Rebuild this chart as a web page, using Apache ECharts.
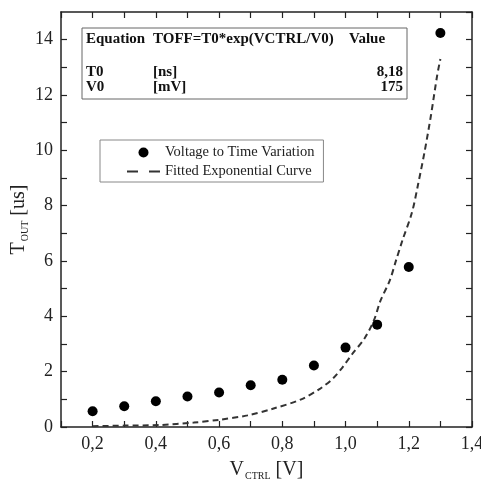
<!DOCTYPE html>
<html>
<head>
<meta charset="utf-8">
<script src="https://cdn.jsdelivr.net/npm/echarts@6/dist/echarts.min.js"></script>
<style>
  html, body { margin: 0; padding: 0; background: #fff; }
  #chart { width: 481px; height: 485px; }
</style>
</head>
<body>
<div id="chart"></div>
<script>
// measured points
const vCtrl = [0.2, 0.3, 0.4, 0.5, 0.6, 0.7, 0.8, 0.9, 1.0, 1.1, 1.2, 1.3];
const tOut = [0.57, 0.75, 0.93, 1.10, 1.25, 1.51, 1.71, 2.22, 2.87, 3.70, 5.78, 14.24];

// fitted curve
const fitV = [0.20, 0.30, 0.41, 0.52, 0.60, 0.69, 0.77, 0.86, 0.92, 0.96, 0.99, 1.02, 1.06, 1.09, 1.11, 1.14, 1.16, 1.18, 1.21, 1.23, 1.25, 1.27, 1.29, 1.30];
const fitT = [0.03, 0.05, 0.07, 0.16, 0.26, 0.42, 0.66, 1.00, 1.39, 1.75, 2.15, 2.62, 3.20, 3.86, 4.55, 5.30, 6.03, 6.75, 7.75, 8.80, 9.95, 11.25, 12.72, 13.30];

const seriesNames = ['Voltage to Time Variation', 'Fitted Exponential Curve'];

// fit parameter table
const tableHead = ['Equation', 'TOFF=T0*exp(VCTRL/V0)', 'Value'];
const tableRows = [
  ['T0', '[ns]', '8,18'],
  ['V0', '[mV]', '175']
];

const serif = '"Liberation Serif", "Times New Roman", serif';
const chart = echarts.init(document.getElementById('chart'));

function fmtX(v) {
  const k = Math.round(v * 10);
  if (k % 2 !== 0) return '';
  return (k / 10).toFixed(1).replace('.', ',');
}
function fmtY(v) {
  return v % 2 === 0 ? String(v) : '';
}

const nameRich = {
  m: { fontSize: 20, fontFamily: serif, color: '#222' },
  s: { fontSize: 10, fontFamily: serif, color: '#222', padding: [13, 0, 0, 1] }
};

const axisLine = { show: true, onZero: false, lineStyle: { color: '#222', width: 1.5 } };
const tick = { show: true, inside: true, length: 6, lineStyle: { color: '#222', width: 1.2 } };

// table graphic
const colX = [86, 153];
const rowY = [39, 72, 87];
const tableFont = 'bold 15px ' + serif;
const tableEls = [{
  type: 'rect',
  shape: { x: 82, y: 28, width: 325, height: 71 },
  style: { fill: '#fff', stroke: '#666', lineWidth: 1 }
}];
tableHead.forEach((t, i) => {
  tableEls.push({
    type: 'text',
    x: i < 2 ? colX[i] : 349, y: rowY[0],
    style: { text: t, font: tableFont, fill: '#111', verticalAlign: 'middle' }
  });
});
tableRows.forEach((row, r) => {
  row.forEach((t, i) => {
    tableEls.push({
      type: 'text',
      x: i < 2 ? colX[i] : 403, y: rowY[r + 1],
      style: { text: t, font: tableFont, fill: '#111', verticalAlign: 'middle', align: i < 2 ? 'left' : 'right' }
    });
  });
});

chart.setOption({
  backgroundColor: '#fff',
  animation: false,
  grid: { left: 61, right: 9, top: 12, bottom: 58, outerBoundsMode: 'none' },
  legend: {
    data: [
      { name: seriesNames[0], icon: 'circle' },
      { name: seriesNames[1], icon: 'path://M0,0h11v2h-11zM22,0h11v2h-11z' }
    ],
    orient: 'vertical',
    left: 100,
    top: 140,
    padding: [5, 9, 3, 27],
    itemWidth: 33,
    itemHeight: 10,
    itemGap: 4,
    borderColor: '#888',
    borderWidth: 1,
    textStyle: { fontFamily: serif, fontSize: 14.5, color: '#222', lineHeight: 15 }
  },
  xAxis: [{
    type: 'value',
    min: 0.1, max: 1.4, interval: 0.1,
    name: '{m|V}{s|CTRL}{m| [V]}',
    nameLocation: 'middle',
    nameGap: 31,
    nameMoveOverlap: false,
    nameTextStyle: { rich: nameRich },
    axisLine: axisLine,
    axisTick: tick,
    axisLabel: { formatter: fmtX, fontFamily: serif, fontSize: 18, color: '#222', margin: 8 },
    splitLine: { show: false }
  }, {
    type: 'value',
    position: 'top',
    min: 0.1, max: 1.4, interval: 0.1,
    axisLine: axisLine,
    axisTick: tick,
    axisLabel: { show: false },
    splitLine: { show: false }
  }],
  yAxis: [{
    type: 'value',
    min: 0, max: 15, interval: 1,
    name: '{m|T}{s|OUT}{m| [us]}',
    nameLocation: 'middle',
    nameRotate: 90,
    nameGap: 31,
    nameMoveOverlap: false,
    nameTextStyle: { rich: nameRich },
    axisLine: axisLine,
    axisTick: tick,
    axisLabel: { formatter: fmtY, showMaxLabel: false, fontFamily: serif, fontSize: 18, color: '#222', margin: 8 },
    splitLine: { show: false }
  }, {
    type: 'value',
    position: 'right',
    min: 0, max: 15, interval: 1,
    axisLine: axisLine,
    axisTick: tick,
    axisLabel: { show: false },
    splitLine: { show: false }
  }],
  series: [{
    name: seriesNames[0],
    type: 'scatter',
    symbol: 'circle',
    symbolSize: 10,
    itemStyle: { color: '#000', opacity: 1 },
    data: vCtrl.map((v, i) => [v, tOut[i]]),
    z: 3
  }, {
    name: seriesNames[1],
    type: 'line',
    symbol: 'none',
    smooth: 0.3,
    lineStyle: { color: '#333', width: 2, type: [6, 4] },
    itemStyle: { color: '#333' },
    data: fitV.map((v, i) => [v, fitT[i]]),
    z: 2
  }],
  graphic: tableEls
});
</script>
</body>
</html>
